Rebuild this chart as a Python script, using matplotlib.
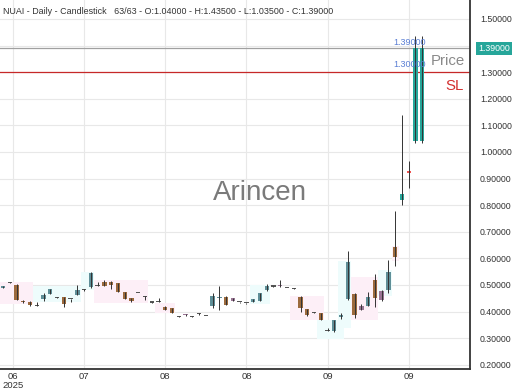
import matplotlib
matplotlib.use('Agg')
import matplotlib.pyplot as plt
import matplotlib.transforms as mtransforms
from matplotlib.patches import Rectangle

plt.rcParams['font.family'] = ['Liberation Sans', 'DejaVu Sans']

# daily OHLC, 63 bars
opens = [0.490, 0.510, 0.500, 0.441, 0.437, 0.423, 0.447, 0.467, 0.453, 0.454,
         0.448, 0.463, 0.481, 0.492, 0.497, 0.512, 0.512, 0.506, 0.472, 0.450,
         0.470, 0.455, 0.435, 0.438, 0.418, 0.412, 0.382, 0.389, 0.382, 0.391,
         0.384, 0.420, 0.451, 0.455, 0.450, 0.436, 0.432, 0.437, 0.440, 0.480,
         0.495, 0.497, 0.489, 0.486, 0.455, 0.408, 0.397, 0.393, 0.328, 0.325,
         0.380, 0.447, 0.466, 0.420, 0.422, 0.519, 0.442, 0.482, 0.643, 0.820,
         0.930, 1.040, 1.040]
highs = [0.497, 0.511, 0.503, 0.445, 0.439, 0.435, 0.469, 0.486, 0.455, 0.456,
         0.449, 0.498, 0.486, 0.548, 0.512, 0.520, 0.514, 0.508, 0.474, 0.452,
         0.471, 0.458, 0.436, 0.450, 0.420, 0.414, 0.383, 0.390, 0.383, 0.396,
         0.385, 0.468, 0.497, 0.457, 0.452, 0.437, 0.433, 0.448, 0.470, 0.505,
         0.496, 0.517, 0.490, 0.487, 0.457, 0.410, 0.398, 0.395, 0.340, 0.370,
         0.395, 0.628, 0.468, 0.430, 0.475, 0.540, 0.482, 0.594, 0.777, 1.140,
         0.966, 1.435, 1.435]
lows = [0.487, 0.507, 0.443, 0.432, 0.420, 0.421, 0.440, 0.465, 0.450, 0.418,
        0.436, 0.461, 0.476, 0.490, 0.495, 0.496, 0.485, 0.472, 0.446, 0.436,
        0.468, 0.445, 0.433, 0.436, 0.405, 0.393, 0.380, 0.384, 0.380, 0.386,
        0.382, 0.412, 0.407, 0.423, 0.438, 0.434, 0.430, 0.435, 0.438, 0.478,
        0.493, 0.494, 0.487, 0.484, 0.400, 0.384, 0.395, 0.368, 0.326, 0.322,
        0.372, 0.445, 0.377, 0.405, 0.420, 0.417, 0.440, 0.470, 0.570, 0.800,
        0.864, 1.035, 1.035]
closes = [0.495, 0.508, 0.445, 0.436, 0.423, 0.422, 0.462, 0.483, 0.451, 0.428,
          0.446, 0.481, 0.482, 0.545, 0.496, 0.497, 0.500, 0.474, 0.448, 0.438,
          0.469, 0.453, 0.434, 0.437, 0.407, 0.395, 0.381, 0.386, 0.381, 0.389,
          0.383, 0.460, 0.455, 0.425, 0.440, 0.435, 0.431, 0.446, 0.469, 0.497,
          0.494, 0.495, 0.488, 0.485, 0.412, 0.386, 0.396, 0.370, 0.327, 0.368,
          0.388, 0.588, 0.387, 0.407, 0.454, 0.450, 0.477, 0.550, 0.605, 0.842,
          0.922, 1.390, 1.390]

# candles drawn in a different tint
purple_bars = [27, 34, 41, 53, 56]
bright_up = [59, 61, 62]
bright_down = [60]

# faint background boxes: start bar, end bar, low, high
zone_start = [0, 5, 12, 14, 23, 37, 43, 47, 50, 52, 56, 58]
zone_end = [4, 11, 13, 21, 25, 39, 47, 50, 51, 55, 57, 58]
zone_low = [0.43, 0.436, 0.48, 0.433, 0.395, 0.43, 0.37, 0.295, 0.34, 0.37, 0.46, 0.59]
zone_high = [0.51, 0.497, 0.55, 0.52, 0.433, 0.50, 0.46, 0.37, 0.59, 0.53, 0.555, 0.645]
zone_up = [False, True, True, False, False, True, False, True, True, False, True, False]

xtick_pos = [1.5, 12, 24, 36, 48, 60]
xtick_lab = ['06\n2025', '07', '08', '08', '09', '09']
yticks = [0.2, 0.3, 0.4, 0.5, 0.6, 0.7, 0.8, 0.9, 1.0, 1.1, 1.2, 1.3, 1.4, 1.5]

last_price = 1.39
stop_loss = 1.30

fig = plt.figure(figsize=(5.2, 3.9), dpi=100)
ax = fig.add_axes([0, 0.054, 0.904, 0.946])

for s, e, lo, hi, up in zip(zone_start, zone_end, zone_low, zone_high, zone_up):
    ax.add_patch(Rectangle((s - 0.5, lo), e - s + 1, hi - lo,
                           facecolor='#eefcfc' if up else '#fdeff7',
                           edgecolor='none', zorder=1))

w = 0.64
for i, (o, h, l, c) in enumerate(zip(opens, highs, lows, closes)):
    if i in bright_up:
        col = '#26a69a'
    elif i in bright_down:
        col = '#ef5350'
    elif i in purple_bars:
        col = '#9a7595'
    elif abs(c - o) < 0.003:
        col = '#555555'
    elif c > o:
        col = '#5f8f98'
    else:
        col = '#9c6a3d'
    bottom = min(o, c)
    height = max(abs(c - o), 0.004)
    ax.bar(i, height, bottom=bottom, width=w, color=col, linewidth=0, zorder=3)
    ax.vlines(i, l, h, color='#333333', linewidth=0.7, zorder=4)

# price line and stop loss
ax.axhline(last_price, color='#a0a0a0', linewidth=0.9, zorder=2)
ax.axhline(stop_loss, color='#c62828', linewidth=0.9, zorder=2)
ax.text(57.8, last_price + 0.003, f'{last_price:.5f}', color='#5b7fd4', fontsize=6.5,
        va='bottom', ha='left', zorder=5)
ax.text(57.8, stop_loss + 0.012, f'{stop_loss:.5f}', color='#5b7fd4', fontsize=6.5,
        va='bottom', ha='left', zorder=5)
ax.text(63.2, 1.342, 'Price', color='#8a8a8a', fontsize=10.8, va='center', ha='left', zorder=5)
ax.text(65.4, 1.248, 'SL', color='#d32f2f', fontsize=10.8, va='center', ha='left', zorder=5)

ax.text(0.553, 0.477, 'Arincen', transform=ax.transAxes, fontsize=20, color='#7a7a7a',
        ha='center', va='center', zorder=0)

ax.set_xlim(-0.444, 69.08)
ax.set_ylim(0.1842, 1.5714)
ax.set_xticks(xtick_pos)
ax.set_xticklabels(xtick_lab, linespacing=0.95)
ax.set_yticks(yticks)
ax.set_yticklabels(['' if abs(v - 1.4) < 1e-9 else f'{v:.5f}' for v in yticks])
ax.yaxis.tick_right()
ax.tick_params(axis='y', length=0, pad=7, labelsize=6.3, labelcolor='#333333')
ax.tick_params(axis='x', length=0, pad=2.5, labelsize=6.8, labelcolor='#333333')
ax.grid(True, color='#e8e8e8', linewidth=0.8, zorder=0)
ax.set_axisbelow(True)
for side in ['left', 'top']:
    ax.spines[side].set_visible(False)
for side in ['right', 'bottom']:
    ax.spines[side].set_color('#333333')
    ax.spines[side].set_linewidth(1.3)

trans = mtransforms.blended_transform_factory(ax.transAxes, ax.transData)
ax.text(1.017, last_price, f'{last_price:.5f}', transform=trans, color='white', fontsize=6.3,
        va='center', ha='left', clip_on=False, zorder=6,
        bbox=dict(boxstyle='square,pad=0.25', facecolor='#26a69a', edgecolor='none'))

fig.text(3 / 520, 1 - 12 / 390, 'NUAI - Daily - Candlestick   63/63 - O:1.04000 - H:1.43500 - L:1.03500 - C:1.39000',
         fontsize=6.4, color='#333333', va='center', ha='left')

fig.savefig('out.png', dpi=100)
